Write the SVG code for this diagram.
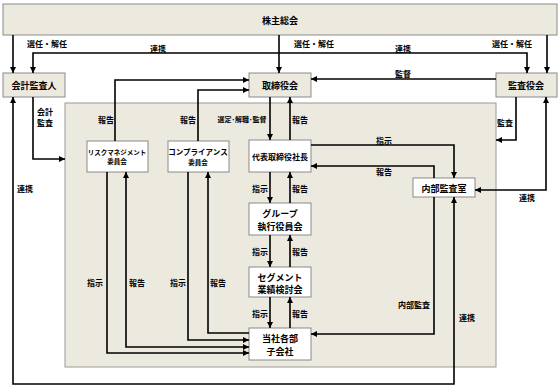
<svg xmlns="http://www.w3.org/2000/svg" width="560" height="388" viewBox="0 0 560 388">
<style>
text{font-family:"Noto Sans CJK JP","Noto Sans",sans-serif;font-weight:bold;fill:#000;text-anchor:middle;dominant-baseline:central}
.bx{font-size:9px}
.lb{font-size:8px}
.sm{font-size:6.5px}
.beige{fill:#ece9df;stroke:#8a8a8a;stroke-width:1}
.white{fill:#fff;stroke:#8a8a8a;stroke-width:1}
.c{fill:none;stroke:#000;stroke-width:1.6}
</style>
<defs>
<marker id="a" viewBox="0 0 8 8" refX="8" refY="4" markerWidth="6" markerHeight="6" markerUnits="userSpaceOnUse" orient="auto-start-reverse"><path d="M0,0 L8,4 L0,8 z" fill="#000"/></marker>
</defs>
<rect x="65" y="103" width="431" height="264" fill="#ece9df" stroke="#9a9a9a" stroke-width="1"/>
<g id="kabunushi"><rect class="beige" x="3" y="4" width="554" height="31"/><text class="bx" x="280" y="20">株主総会</text></g>
<g id="kaikei"><rect class="beige" x="3" y="73" width="62" height="24"/><text class="bx" x="34" y="85">会計監査人</text></g>
<g id="torishimari"><rect class="beige" x="249" y="73" width="62" height="24"/><text class="bx" x="280" y="85">取締役会</text></g>
<g id="kansayaku"><rect class="beige" x="496" y="73" width="61" height="24"/><text class="bx" x="526" y="85">監査役会</text></g>
<g id="risk"><rect class="white" x="87" y="141" width="61" height="31"/><text class="sm" x="117" y="151.5">リスクマネジメント</text><text class="sm" x="117" y="161">委員会</text></g>
<g id="compliance"><rect class="white" x="168" y="141" width="61" height="31"/><text class="sm" x="198" y="151.5" style="font-size:7.5px">コンプライアンス</text><text class="sm" x="198" y="161.5">委員会</text></g>
<g id="daihyo"><rect class="white" x="249" y="140" width="62" height="32"/><text class="bx" x="280" y="156" style="font-size:8px">代表取締役社長</text></g>
<g id="group"><rect class="white" x="249" y="203" width="62" height="32"/><text class="bx" x="280" y="213">グループ</text><text class="bx" x="280" y="226">執行役員会</text></g>
<g id="segment"><rect class="white" x="249" y="267" width="62" height="30"/><text class="bx" x="280" y="277">セグメント</text><text class="bx" x="280" y="289">業績検討会</text></g>
<g id="tosha"><rect class="white" x="249" y="328" width="62" height="32"/><text class="bx" x="280" y="338">当社各部</text><text class="bx" x="280" y="351">子会社</text></g>
<g id="naibu"><rect class="white" x="413" y="178" width="62" height="19"/><text class="bx" x="444" y="188">内部監査室</text></g>
<g id="connectors">
<path class="c" marker-end="url(#a)" d="M13,35 V73"/>
<path class="c" marker-end="url(#a)" d="M279,35 V73"/>
<path class="c" marker-end="url(#a)" d="M547,35 V73"/>
<path class="c" marker-start="url(#a)" marker-end="url(#a)" d="M33,73 V53 H527 V73"/>
<path class="c" marker-end="url(#a)" d="M496,79 H311"/>
<path class="c" marker-end="url(#a)" d="M33,97 V159 H65"/>
<path class="c" marker-start="url(#a)" marker-end="url(#a)" d="M454,197 V384 H13 V97"/>
<path class="c" marker-end="url(#a)" d="M115,141 V80 H249"/>
<path class="c" marker-end="url(#a)" d="M198,141 V90 H249"/>
<path class="c" marker-end="url(#a)" d="M270,97 V140"/>
<path class="c" marker-end="url(#a)" d="M290,140 V97"/>
<path class="c" marker-end="url(#a)" d="M270,172 V203"/>
<path class="c" marker-end="url(#a)" d="M290,203 V172"/>
<path class="c" marker-end="url(#a)" d="M270,235 V267"/>
<path class="c" marker-end="url(#a)" d="M290,267 V235"/>
<path class="c" marker-end="url(#a)" d="M270,297 V328"/>
<path class="c" marker-end="url(#a)" d="M290,328 V297"/>
<path class="c" marker-end="url(#a)" d="M311,145 H454 V178"/>
<path class="c" marker-end="url(#a)" d="M434,178 V166 H311"/>
<path class="c" marker-end="url(#a)" d="M434,197 V334 H311"/>
<path class="c" marker-end="url(#a)" d="M516,97 V140 H496"/>
<path class="c" marker-start="url(#a)" marker-end="url(#a)" d="M546,97 V190 H475"/>
<path class="c" marker-end="url(#a)" d="M107,172 V353 H249"/>
<path class="c" marker-start="url(#a)" marker-end="url(#a)" d="M126,172 V347 H249"/>
<path class="c" marker-end="url(#a)" d="M188,172 V340 H249"/>
<path class="c" marker-end="url(#a)" d="M249,333 H208 V172"/>
</g>
<g id="labels" class="lb">
<text class="lb" x="47" y="43">選任・解任</text>
<text class="lb" x="314" y="43">選任・解任</text>
<text class="lb" x="512" y="43">選任・解任</text>
<text class="lb" x="158" y="48">連携</text>
<text class="lb" x="403" y="48">連携</text>
<text class="lb" x="403" y="73">監督</text>
<text class="lb" x="45" y="111">会計</text>
<text class="lb" x="45" y="122">監査</text>
<text class="lb" x="25" y="188">連携</text>
<text class="lb" x="106" y="119">報告</text>
<text class="lb" x="188" y="119">報告</text>
<text class="lb" x="242" y="119" style="font-size:7px">選定･解職･監督</text>
<text class="lb" x="300" y="119">報告</text>
<text class="lb" x="260" y="188">指示</text>
<text class="lb" x="300" y="188">報告</text>
<text class="lb" x="260" y="251">指示</text>
<text class="lb" x="300" y="251">報告</text>
<text class="lb" x="260" y="313">指示</text>
<text class="lb" x="300" y="313">報告</text>
<text class="lb" x="384" y="140">指示</text>
<text class="lb" x="384" y="171">報告</text>
<text class="lb" x="414" y="304">内部監査</text>
<text class="lb" x="467" y="317">連携</text>
<text class="lb" x="505" y="122">監査</text>
<text class="lb" x="527" y="197">連携</text>
<text class="lb" x="95" y="282">指示</text>
<text class="lb" x="137" y="282">報告</text>
<text class="lb" x="178" y="282">指示</text>
<text class="lb" x="218" y="282">報告</text>
</g>
</svg>
